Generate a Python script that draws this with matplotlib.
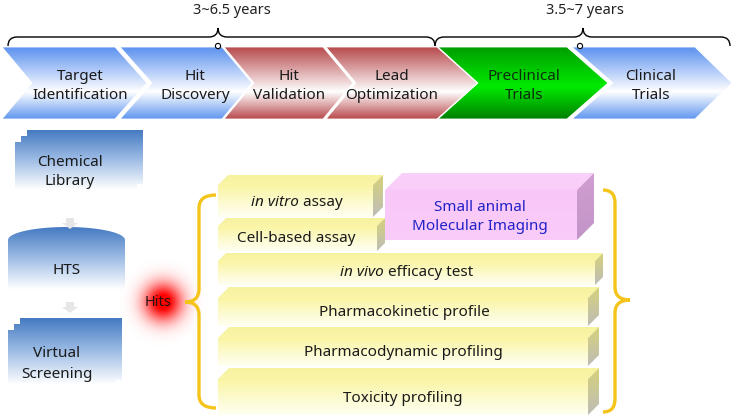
import numpy as np
import matplotlib
matplotlib.use("Agg")
import matplotlib.pyplot as plt
from matplotlib.path import Path
from matplotlib.patches import PathPatch, Circle

plt.rcParams['font.family'] = ['Noto Sans', 'DejaVu Sans']

# ---------------- content ----------------
stages = ["Target\nIdentification", "Hit\nDiscovery", "Hit\nValidation",
          "Lead\nOptimization", "Preclinical\nTrials", "Clinical\nTrials"]
stage_kinds = ["blue", "blue", "red", "red", "green", "blue"]
durations = ["3~6.5 years", "3.5~7 years"]
library_steps = ["Chemical\nLibrary", "HTS", "Virtual\nScreening"]
hits_label = "Hits"
assays = ["in vitro assay", "Cell-based assay", "Small animal\nMolecular Imaging",
          "in vivo efficacy test", "Pharmacokinetic profile",
          "Pharmacodynamic profiling", "Toxicity profiling"]
italic_prefix = ["in vitro", "", "", "in vivo", "", "", ""]

# ---------------- figure ----------------
W, H = 735, 418
fig = plt.figure(figsize=(W / 100, H / 100), dpi=100)
ax = fig.add_axes([0, 0, 1, 1])
ax.axis('off')
FS = 11
LS = 1.38


def grad_patch(verts, stops, zorder=1, edge='none', lw=0, codes=None):
    verts = np.asarray(verts, float)
    if codes is None:
        path = Path(np.vstack([verts, verts[:1]]),
                    [Path.MOVETO] + [Path.LINETO] * (len(verts) - 1) + [Path.CLOSEPOLY])
    else:
        path = Path(verts, codes)
    patch = PathPatch(path, facecolor='none', edgecolor=edge, lw=lw, zorder=zorder + 0.1)
    ax.add_patch(patch)
    x0, x1 = verts[:, 0].min(), verts[:, 0].max()
    y0, y1 = verts[:, 1].min(), verts[:, 1].max()
    t = np.linspace(0, 1, 256)
    pos = [s[0] for s in stops]
    cols = np.stack([np.interp(t, pos, [s[1][c] for s in stops]) for c in range(3)], -1)
    img = np.repeat(cols[:, None, :], 2, axis=1)
    im = ax.imshow(img, extent=(x0, x1, y1, y0), origin='upper', aspect='auto',
                   interpolation='bilinear', zorder=zorder)
    im.set_clip_path(patch)
    return patch


schemes = {
    "blue": [(0, (0.36, 0.57, 0.94)), (0.62, (1, 1, 1)), (1, (0.38, 0.59, 0.94))],
    "red": [(0, (0.72, 0.29, 0.30)), (0.62, (1, 1, 1)), (1, (0.72, 0.29, 0.30))],
    "green": [(0, (0.0, 0.62, 0.0)), (0.55, (0.0, 0.92, 0.0)), (1, (0.0, 0.50, 0.0))],
}

# ---------------- chevrons ----------------
chev_left = [2, 120, 224, 326, 438, 572]
chev_right = [115, 222, 323, 437, 567, 695]
chev_tip = [32, 30, 30, 40, 41, 37]
chev_text_x = [80, 195, 289, 392, 524, 651]
yt, yb = 47, 119
ym = (yt + yb) / 2
for i, lab in enumerate(stages):
    notch = 30 if i == 0 else chev_tip[i - 1]
    xl, xr, d = chev_left[i], chev_right[i], chev_tip[i]
    verts = [(xl, yt), (xr, yt), (xr + d, ym), (xr, yb), (xl, yb), (xl + notch, ym)]
    grad_patch(verts, schemes[stage_kinds[i]], zorder=2, edge='white', lw=0.6)
    tc = (0.05, 0.18, 0.05) if stage_kinds[i] == "green" else (0.1, 0.1, 0.1)
    ax.text(chev_text_x[i], 86, lab, ha='center', va='center', fontsize=FS,
            color=tc, linespacing=LS, zorder=5)


# ---------------- braces ----------------
def hbrace(x0, x1, xm, ybase, yend, ytip, r=10, **kw):
    v = [(x0, yend), (x0, ybase), (x0 + r, ybase),
         (xm - r, ybase), (xm, ybase), (xm, ytip),
         (xm, ybase), (xm + r, ybase),
         (x1 - r, ybase), (x1, ybase), (x1, yend)]
    c = [Path.MOVETO, Path.CURVE3, Path.CURVE3,
         Path.LINETO, Path.CURVE3, Path.CURVE3,
         Path.CURVE3, Path.CURVE3,
         Path.LINETO, Path.CURVE3, Path.CURVE3]
    ax.add_patch(PathPatch(Path(v, c), facecolor='none', **kw))


def vbrace(xline, xend, xtip, y0, y1, ym, r=12, **kw):
    v = [(xend, y0), (xline, y0), (xline, y0 + r),
         (xline, ym - r), (xline, ym), (xtip, ym),
         (xline, ym), (xline, ym + r),
         (xline, y1 - r), (xline, y1), (xend, y1)]
    c = [Path.MOVETO, Path.CURVE3, Path.CURVE3,
         Path.LINETO, Path.CURVE3, Path.CURVE3,
         Path.CURVE3, Path.CURVE3,
         Path.LINETO, Path.CURVE3, Path.CURVE3]
    ax.add_patch(PathPatch(Path(v, c), facecolor='none', **kw))


hbrace(8, 435, 218, 37, 46, 28, r=9, edgecolor='black', lw=1.0, zorder=6)
hbrace(435, 730, 583, 37, 46, 28, r=9, edgecolor='black', lw=1.0, zorder=6)
for cx in (218, 580):
    ax.add_patch(Circle((cx, 46), 2.6, facecolor='white', edgecolor='black', lw=0.8, zorder=6))
ax.text(232, 10, durations[0], ha='center', va='center', fontsize=10.5, color='#222222')
ax.text(585, 10, durations[1], ha='center', va='center', fontsize=10.5, color='#222222')

# ---------------- left library column ----------------
lib_stops = [(0, (0.27, 0.48, 0.76)), (0.45, (0.62, 0.74, 0.90)), (0.9, (1, 1, 1)), (1, (1, 1, 1))]


def stack_doc(x0, x1, y0, y1, s):
    v = [(x0 + 2 * s, y0), (x1, y0), (x1, y1 - 2 * s), (x1 - s, y1 - 2 * s),
         (x1 - s, y1 - s), (x1 - 2 * s, y1 - s), (x1 - 2 * s, y1), (x0, y1),
         (x0, y0 + 2 * s), (x0 + s, y0 + 2 * s), (x0 + s, y0 + s), (x0 + 2 * s, y0 + s)]
    grad_patch(v, lib_stops, zorder=2)


stack_doc(15, 143, 130, 196, 6)
stack_doc(8, 122, 318, 392, 6)
# HTS cylinder-like
th = np.linspace(np.pi, 0, 40)
top = [(66.5 + 58.5 * np.cos(a), 240 - 13 * np.sin(a)) for a in th]
bot = [(66.5 + 58.5 * np.cos(a), 288 + 8 * np.sin(a)) for a in th[::-1]]
grad_patch(top + bot, lib_stops, zorder=2)

ax.text(70, 172, library_steps[0], ha='center', va='center', fontsize=FS,
        color='#1a1a1a', linespacing=LS, zorder=5)
ax.text(67, 270, library_steps[1], ha='center', va='center', fontsize=FS,
        color='#1a1a1a', zorder=5)
ax.text(57, 364, library_steps[2], ha='center', va='center', fontsize=FS,
        color='#1a1a1a', linespacing=1.5, zorder=5)

# small light arrows
for ya in (218, 302):
    v = [(66, ya), (74, ya), (74, ya + 5), (78, ya + 5), (70, ya + 11), (62, ya + 5), (66, ya + 5)]
    ax.add_patch(plt.Polygon(v, closed=True, facecolor=(0.90, 0.90, 0.90), edgecolor='none', zorder=2))

# Hits glow
gx, gy, R = 163, 302, 48
yy, xx = np.mgrid[-R:R:200j, -R:R:200j]
rr = np.hypot(xx, yy)
alpha = np.clip(1.15 * np.exp(-(rr / 19.0) ** 2), 0, 1)
glow = np.zeros(rr.shape + (4,))
glow[..., 0] = 1.0
glow[..., 3] = alpha
ax.imshow(glow, extent=(gx - R, gx + R, gy + R, gy - R), origin='upper', aspect='auto',
          interpolation='bilinear', zorder=3)
ax.text(158, 302, hits_label, ha='center', va='center', fontsize=10.5, color='#2a1010', zorder=5)

# yellow braces
gold = (0.96, 0.77, 0.10)
vbrace(199, 216, 185, 195, 408, 302, r=13, edgecolor=gold, lw=2.4, zorder=4)
vbrace(615, 603, 630, 190, 412, 300, r=13, edgecolor=gold, lw=2.4, zorder=4)

# ---------------- 3D boxes ----------------
box_geom = [(218, 185, 373, 217, 10), (218, 226, 377, 251, 8), (385, 190, 577, 240, 17),
            (218, 261, 595, 285, 8), (218, 298, 588, 326, 11), (218, 338, 588, 366, 11),
            (218, 379, 588, 415, 11)]
text_pos = [(297, 203), (296, 239), (480, 217), (407, 273), (404, 312), (403, 353), (403, 398)]

yel_front = [(0, (0.98, 0.96, 0.64)), (0.5, (0.99, 0.98, 0.80)), (1, (1.0, 1.0, 0.95))]
yel_top = [(0, (0.97, 0.95, 0.62)), (1, (0.98, 0.96, 0.66))]
yel_side = [(0, (0.84, 0.82, 0.48)), (1, (0.74, 0.74, 0.72))]
pink_front = [(0, (0.98, 0.78, 0.97)), (1, (0.98, 0.80, 0.98))]
pink_top = [(0, (0.98, 0.82, 0.98)), (1, (0.98, 0.80, 0.97))]
pink_side = [(0, (0.82, 0.62, 0.82)), (1, (0.76, 0.58, 0.78))]

fig.canvas.draw()
rend = fig.canvas.get_renderer()

for i, (x0, y0, x1, y1, d) in enumerate(box_geom):
    pink = (i == 2)
    z = 2 + i * 0.01
    grad_patch([(x0, y0), (x1, y0), (x1 + d, y0 - d), (x0 + d, y0 - d)],
               pink_top if pink else yel_top, zorder=z)
    grad_patch([(x1, y0), (x1 + d, y0 - d), (x1 + d, y1 - d), (x1, y1)],
               pink_side if pink else yel_side, zorder=z)
    grad_patch([(x0, y0), (x1, y0), (x1, y1), (x0, y1)],
               pink_front if pink else yel_front, zorder=z)
    tx, ty = text_pos[i]
    col = (0.13, 0.13, 0.78) if pink else '#1a1a1a'
    if italic_prefix[i]:
        rest = assays[i][len(italic_prefix[i]):]
        t1 = ax.text(0, ty, italic_prefix[i], ha='left', va='center', fontsize=FS,
                     style='italic', color=col, zorder=5)
        t2 = ax.text(0, ty, rest, ha='left', va='center', fontsize=FS, color=col, zorder=5)
        w1 = t1.get_window_extent(rend).width
        w2 = t2.get_window_extent(rend).width
        xs = tx - (w1 + w2) / 2
        t1.set_x(xs)
        t2.set_x(xs + w1)
    else:
        ax.text(tx, ty, assays[i], ha='center', va='center', fontsize=FS, color=col,
                linespacing=LS, zorder=5)

ax.set_xlim(0, W)
ax.set_ylim(H, 0)
fig.savefig("out.png", dpi=100, facecolor='white')
